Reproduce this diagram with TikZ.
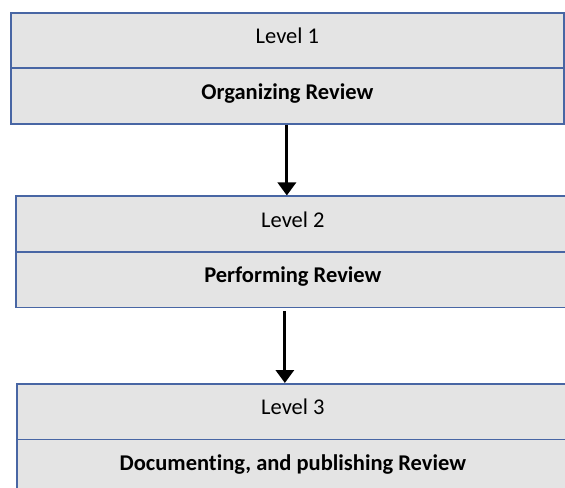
\documentclass[tikz,border=0pt]{standalone}
\usepackage{fontspec}
\setmainfont{Carlito}[Ligatures=NoCommon]
\usetikzlibrary{arrows.meta,calc}
\definecolor{boxfill}{RGB}{228,228,228}
\definecolor{boxline}{RGB}{72,102,164}
\tikzset{
  half/.style={draw=boxline, line width=1.7bp, fill=boxfill, rectangle,
    minimum height=55.5bp, anchor=north west, inner sep=0pt,
    text height=14bp, text depth=8bp,
    font=\fontsize{22.5bp}{27bp}\selectfont},
  title/.style={half, font=\fontsize{22.5bp}{27bp}\selectfont\bfseries},
  flow/.style={draw=black, line width=3.2bp, -{Triangle[width=18bp,length=13bp]}}
}
\begin{document}
\begin{tikzpicture}[x=1bp,y=-1bp]
  \useasboundingbox (0,0) rectangle (565,488);
  \clip (0,0) rectangle (565,488);
  % level 1
  \node[half, minimum width=553bp] (l1) at (10,12) {Level 1};
  \node[title, minimum width=553bp] (r1) at (10,67.5) {Organizing Review};
  % level 2
  \node[half, minimum width=554bp] (l2) at (15,195.5) {Level 2};
  \node[title, minimum width=554bp] (r2) at (15,251) {Performing Review};
  % level 3
  \node[half, minimum width=552bp] (l3) at (16,383) {Level 3};
  \node[title, minimum width=552bp] (r3) at (16,438.5) {Documenting, and publishing Review};
  % flow between levels
  \draw[flow] ([xshift=-0.5bp]r1.south) -- ([xshift=-0.5bp]r1.south |- l2.north);
  \draw[flow] ([xshift=-8bp,yshift=-3bp]r2.south) -- ([xshift=-8bp]r2.south |- l3.north);
\end{tikzpicture}
\end{document}
